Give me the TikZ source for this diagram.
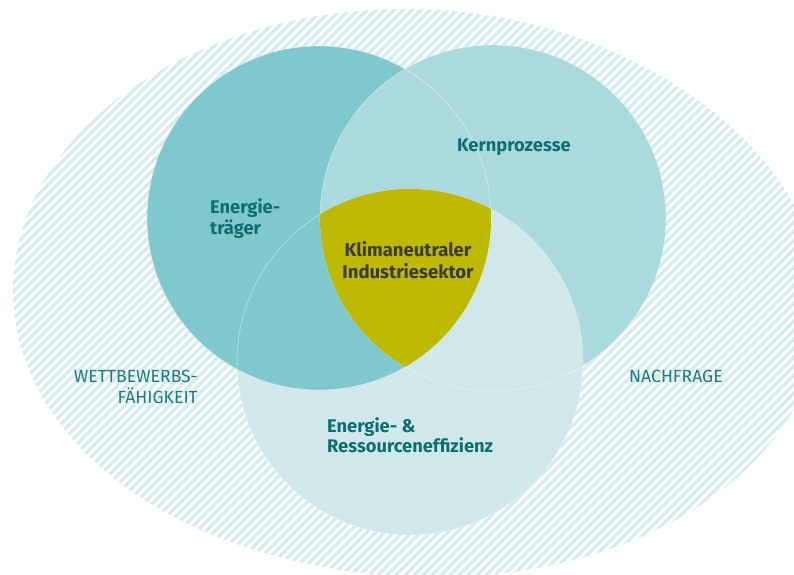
\documentclass[tikz,border=0pt]{standalone}
\usepackage{fontspec}
\setmainfont{Fira Sans}
\definecolor{cL}{HTML}{7FC8CE}
\definecolor{cR}{HTML}{AADADE}
\definecolor{cB}{HTML}{D0E8EC}
\definecolor{cO}{HTML}{BDB800}
\definecolor{cHatch}{HTML}{D5ECEE}
\definecolor{cTeal}{HTML}{0E6E70}
\definecolor{cOuter}{HTML}{1C7B80}
\definecolor{cDark}{HTML}{3A3A36}
\tikzset{
  boldlbl/.style={inner sep=0pt, font=\fontsize{18.3}{21}\selectfont\bfseries, text=cTeal},
  centerlbl/.style={inner sep=0pt, font=\fontsize{18.5}{22}\selectfont\bfseries, text=cDark, align=center},
  outerlbl/.style={inner sep=0pt, font=\fontsize{17.6}{21}\selectfont, text=cOuter},
  rim/.style={draw=white, draw opacity=0.45, line width=0.6pt}
}
\begin{document}
\begin{tikzpicture}[x=1pt,y=-1pt]
\useasboundingbox (0,0) rectangle (794,574);
% hatched background blob
\begin{scope}
  \clip (0,0) rectangle (794,574);
  \clip plot[domain=0:357, samples=120, smooth cycle, variable=\t]
    ({405 + 392*cos(\t)*(1+0.08*pow(max(0,cos(\t-30)),2))},
     {290 + 281*sin(\t)*(1+0.08*pow(max(0,cos(\t-30)),2))});
  \foreach \k in {0,9,...,1404} \draw[cHatch, line width=3.2pt] (\k,-10) -- (\k-600,590);
\end{scope}
% circles
\coordinate (cl) at (319,218);
\coordinate (cr) at (493,218);
\coordinate (cb) at (410,362);
\fill[cB] (cb) circle (173pt);
\fill[cL] (cl) circle (172pt);
\begin{scope}
  \clip (cr) circle (173pt);
  \fill[cR, even odd rule] (-10,-10) rectangle (804,584) (cb) circle (173pt);
\end{scope}
\draw[rim] (cl) circle (172pt);
\draw[rim] (cr) circle (173pt);
\draw[rim] (cb) circle (173pt);
\begin{scope}
  \clip (cl) circle (172pt);
  \clip (cr) circle (173pt);
  \fill[cO] (cb) circle (173pt);
\end{scope}
% labels (base anchor = baseline of last line)
\node[boldlbl, anchor=base west, align=left] (et) at (210,234) {Energie-\\träger};
\node[boldlbl, anchor=base west] (kp) at (457,151) {Kernprozesse};
\node[centerlbl, anchor=base] (kl) at (408,278) {Klimaneutraler\\Industriesektor};
\node[boldlbl, font=\fontsize{18.3}{20}\selectfont\bfseries, anchor=base west, align=left] (er) at (327,452) {Energie- \&\\Ressourceneffizienz};
\node[outerlbl, anchor=base east, align=right] (wf) at (198,403) {WETTBEWERBS-\\FÄHIGKEIT};
\node[outerlbl, anchor=base west] (nf) at (629,382) {NACHFRAGE};
\end{tikzpicture}
\end{document}
